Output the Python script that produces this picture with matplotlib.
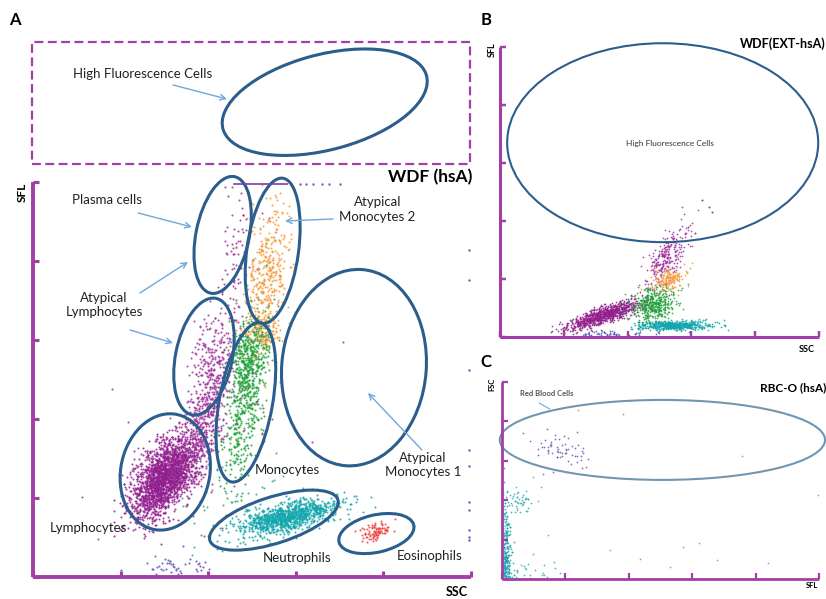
import numpy as np
import matplotlib
matplotlib.use("Agg")
import matplotlib.pyplot as plt
from matplotlib.patches import Ellipse, Rectangle

plt.rcParams['font.family'] = ['Lato', 'DejaVu Sans']

# ---------------- data ----------------
# Panel A  WDF (hsA): clusters  name, cx, cy, sx, sy, rho, n, color
A_names  = ["lymph", "lymph_tail", "atyp_lymph", "plasma", "orange", "orange_base",
            "green_top", "green_low", "neutro", "eos", "debris", "scatter_g", "scatter_p"]
A_cx     = [1.50, 1.95, 2.05, 2.30, 2.68, 2.60, 2.47, 2.36, 2.90, 3.91, 1.62, 2.20, 2.00]
A_cy     = [1.28, 1.95, 2.70, 3.95, 3.80, 3.10, 2.75, 1.85, 0.76, 0.57, 0.12, 1.00, 2.00]
A_sx     = [0.19, 0.13, 0.13, 0.09, 0.12, 0.10, 0.12, 0.12, 0.28, 0.09, 0.17, 0.35, 0.60]
A_sy     = [0.27, 0.33, 0.33, 0.55, 0.45, 0.14, 0.32, 0.35, 0.11, 0.055, 0.07, 0.35, 1.00]
A_rho    = [0.55, 0.50, 0.30, 0.30, 0.20, 0.20, 0.30, 0.30, 0.60, 0.30, 0.10, 0.00, 0.30]
A_n      = [2100, 380, 260, 90, 380, 120, 520, 260, 1000, 90, 45, 60, 50]
A_col    = ["#93208f", "#a0309c", "#a0309c", "#9a2c98", "#f39a3a", "#f39a3a",
            "#22a33c", "#22a33c", "#12a6ad", "#e8473f", "#5a4fb0", "#2aa88a", "#a0309c"]
A_top_x  = [2.95, 3.05, 3.12, 3.20, 3.30, 3.38, 3.50]          # saturated points at SFL max
A_edge_y = [4.14, 3.76, 2.62, 1.61, 1.40, 0.95, 0.85, 0.60, 0.51, 0.47]  # points at SSC max

# Panel B  WDF(EXT-hsA)
B_cx  = [1.62, 2.62, 2.63, 2.40, 2.72, 1.70]
B_cy  = [0.38, 1.40, 0.98, 0.55, 0.20, 0.05]
B_sx  = [0.28, 0.17, 0.14, 0.18, 0.28, 0.30]
B_sy  = [0.12, 0.28, 0.12, 0.15, 0.04, 0.03]
B_rho = [0.80, 0.70, 0.30, 0.20, 0.10, 0.00]
B_n   = [900, 260, 170, 420, 520, 60]
B_col = ["#93208f", "#a0309c", "#f39a3a", "#22a33c", "#12a6ad", "#5a4fb0"]
B_out_x = [3.17, 3.28, 3.33, 2.95, 3.05]
B_out_y = [2.36, 2.24, 2.16, 1.90, 1.80]

# Panel C  RBC-O (hsA)
C_cx  = [0.90, 0.25, 0.06, 0.45]
C_cy  = [3.30, 1.95, 0.70, 0.25]
C_sx  = [0.25, 0.12, 0.04, 0.30]
C_sy  = [0.25, 0.15, 0.70, 0.15]
C_n   = [60, 45, 230, 30]
C_col = ["#5a50b5", "#2aa8a8", "#12a0a8", "#2aa8a8"]
C_out_x = [2.86, 3.10, 2.18, 3.39, 4.20, 2.65, 1.70, 0.73, 3.78, 1.91, 1.20, 4.99, 0.49, 0.57]
C_out_y = [0.82, 0.91, 0.52, 0.48, 0.40, 0.31, 0.74, 1.12, 3.12, 4.20, 4.29, 2.12, 2.60, 1.98]

# Ellipse gates in panel A: cx, cy, w, h, angle
gate_cx = [2.165, 2.736, 1.952, 2.43, 3.664, 1.51, 2.75, 3.92, 3.33]
gate_cy = [4.33, 4.13, 2.79, 2.21, 2.65, 1.33, 0.72, 0.55, 6.01]
gate_w  = [0.61, 0.59, 0.65, 0.61, 1.65, 1.02, 1.55, 0.88, 2.42]
gate_h  = [1.50, 1.85, 1.50, 2.04, 2.49, 1.48, 0.58, 0.47, 1.20]
gate_a  = [-10, -7, -10, -9, -4, -8, 20, 15, 17]

PURPLE = "#a23ea6"
GATE = "#2b5e8c"
ARROW = "#6fa8dc"

rng = np.random.default_rng(7)

def cloud(cx, cy, sx, sy, rho, n):
    cov = [[sx * sx, rho * sx * sy], [rho * sx * sy, sy * sy]]
    return rng.multivariate_normal([cx, cy], cov, n)

def style_axes(ax, xmax, ymax, lw=2.8):
    ax.set_xlim(0, xmax)
    for s in ["top", "right"]:
        ax.spines[s].set_visible(False)
    for s in ["left", "bottom"]:
        ax.spines[s].set_color(PURPLE)
        ax.spines[s].set_linewidth(lw)
        ax.spines[s].set_capstyle("butt")
    ax.spines["left"].set_bounds(0, 5)
    ax.spines["bottom"].set_bounds(0, 5)
    ax.set_xticks(range(0, 6))
    ax.set_yticks(range(0, 6))
    ax.tick_params(direction="in", length=4, width=lw * 0.8, color=PURPLE,
                   labelleft=False, labelbottom=False)

W, H = 826, 599
fig = plt.figure(figsize=(W / 100, H / 100), dpi=100)

# ---------------- Panel A ----------------
axA = fig.add_axes([33 / W, 22 / H, 438 / W, 541 / H])
axA.set_ylim(0, 541 / 79)
style_axes(axA, 5.0, 541 / 79)
for i in range(len(A_names)):
    p = cloud(A_cx[i], A_cy[i], A_sx[i], A_sy[i], A_rho[i], A_n[i])
    m = (p[:, 1] > 0.02) & (p[:, 1] < 4.98) & (p[:, 0] > 0.05) & (p[:, 0] < 4.98)
    axA.scatter(p[m, 0], p[m, 1], s=2.2, c=A_col[i], lw=0, alpha=0.85)
axA.plot([2.29, 2.90], [4.98, 4.98], color="#7a3cb0", lw=1.2)
axA.scatter(A_top_x, [4.98] * len(A_top_x), s=3, c="#7a5cc0", lw=0)
axA.scatter([4.98] * len(A_edge_y), A_edge_y, s=3, c="#6a5cc0", lw=0)

for i in range(len(gate_cx)):
    axA.add_patch(Ellipse((gate_cx[i], gate_cy[i]), gate_w[i], gate_h[i], angle=gate_a[i],
                          fill=False, ec=GATE, lw=2.2, clip_on=False))
axA.add_patch(Rectangle((-0.01, 5.23), 5.0, 1.54, fill=False, ec=PURPLE, lw=1.6,
                        ls=(0, (4, 2)), clip_on=False))

tk = dict(fontsize=9.5, color="#222222", ha="center", va="center", linespacing=1.25)
axA.text(1.256, 6.37, "High Fluorescence Cells", **tk)
axA.text(0.845, 4.77, "Plasma cells", **tk)
axA.text(0.81, 3.44, "Atypical\nLymphocytes", **tk)
axA.text(3.93, 4.65, "Atypical\nMonocytes 2", **tk)
axA.text(2.90, 1.35, "Monocytes", **tk)
axA.text(4.45, 1.42, "Atypical\nMonocytes 1", **tk)
axA.text(0.63, 0.62, "Lymphocytes", **tk)
axA.text(3.01, 0.24, "Neutrophils", **tk)
axA.text(4.53, 0.27, "Eosinophils", **tk)

arrows = [((1.598, 6.228), (2.215, 6.05)), ((1.199, 4.608), (1.815, 4.43)),
          ((1.221, 3.595), (1.769, 3.987)), ((1.107, 3.127), (1.598, 2.962)),
          ((3.425, 4.532), (2.877, 4.506)), ((4.44, 1.608), (3.824, 2.329))]
for (s, e) in arrows:
    axA.annotate("", xy=e, xytext=s,
                 arrowprops=dict(arrowstyle="->", color=ARROW, lw=1.0, shrinkA=0, shrinkB=0))
axA.text(5.02, 5.06, "WDF (hsA)", fontsize=12.5, fontweight="bold", ha="right", va="center")

fig.text(15 / W, 1 - 20 / H, "A", fontsize=12, fontweight="bold", ha="center", va="center")
fig.text(22 / W, 1 - 192 / H, "SFL", fontsize=8.5, fontweight="bold", rotation=90,
         ha="center", va="center")
fig.text(457 / W, 1 - 592 / H, "SSC", fontsize=9, fontweight="bold", ha="center", va="center")

# ---------------- Panel B ----------------
axB = fig.add_axes([500 / W, (H - 337) / H, 319 / W, 290 / H])
axB.set_ylim(0, 5)
style_axes(axB, 5.0, 5.0, lw=2.2)
for i in range(len(B_cx)):
    p = cloud(B_cx[i], B_cy[i], B_sx[i], B_sy[i], B_rho[i], B_n[i])
    m = (p[:, 1] > 0.02) & (p[:, 0] > 0.05)
    axB.scatter(p[m, 0], p[m, 1], s=1.6, c=B_col[i], lw=0, alpha=0.85)
axB.scatter(B_out_x, B_out_y, s=2, c="#a0309c", lw=0)
axB.add_patch(Ellipse((2.55, 3.35), 4.875, 3.43, fill=False, ec=GATE, lw=1.5, clip_on=False))
axB.text(2.66, 3.34, "High Fluorescence Cells", fontsize=6, ha="center", va="center",
         color="#333333")
fig.text(826 / W, 1 - 44 / H, "WDF(EXT-hsA)", fontsize=9, fontweight="bold", ha="right",
         va="center")
fig.text(486 / W, 1 - 20 / H, "B", fontsize=12, fontweight="bold", ha="center", va="center")
fig.text(492 / W, 1 - 50 / H, "SFL", fontsize=6.5, fontweight="bold", rotation=90,
         ha="center", va="center")
fig.text(807 / W, 1 - 349 / H, "SSC", fontsize=6.5, fontweight="bold", ha="center",
         va="center")

# ---------------- Panel C ----------------
axC = fig.add_axes([502 / W, 20 / H, 317 / W, 197 / H])
axC.set_ylim(0, 5)
style_axes(axC, 5.0, 5.0, lw=2.0)
for i in range(len(C_cx)):
    p = cloud(C_cx[i], C_cy[i], C_sx[i], C_sy[i], 0.0, C_n[i])
    p = np.abs(p)
    axC.scatter(p[:, 0], p[:, 1], s=1.6, c=C_col[i], lw=0, alpha=0.8)
axC.scatter(C_out_x, C_out_y, s=1.6, c="#9aa4b0", lw=0)
axC.add_patch(Ellipse((2.53, 3.53), 5.13, 2.03, fill=False, ec="#7396b0", lw=1.5,
                      clip_on=False))
axC.annotate("", xy=(0.79, 4.28), xytext=(0.55, 4.5),
             arrowprops=dict(arrowstyle="-", color=ARROW, lw=0.8))
fig.text(547 / W, 1 - 393 / H, "Red Blood Cells", fontsize=5.5, fontweight="bold",
         color="#555555", ha="center", va="center")
fig.text(826 / W, 1 - 388 / H, "RBC-O (hsA)", fontsize=8.5, fontweight="bold", ha="right",
         va="center")
fig.text(486 / W, 1 - 362 / H, "C", fontsize=12, fontweight="bold", ha="center", va="center")
fig.text(492 / W, 1 - 384 / H, "FSC", fontsize=5.5, fontweight="bold", rotation=90,
         ha="center", va="center")
fig.text(812 / W, 1 - 585 / H, "SFL", fontsize=5.5, fontweight="bold", ha="center",
         va="center")

fig.savefig("out.png", dpi=100)
